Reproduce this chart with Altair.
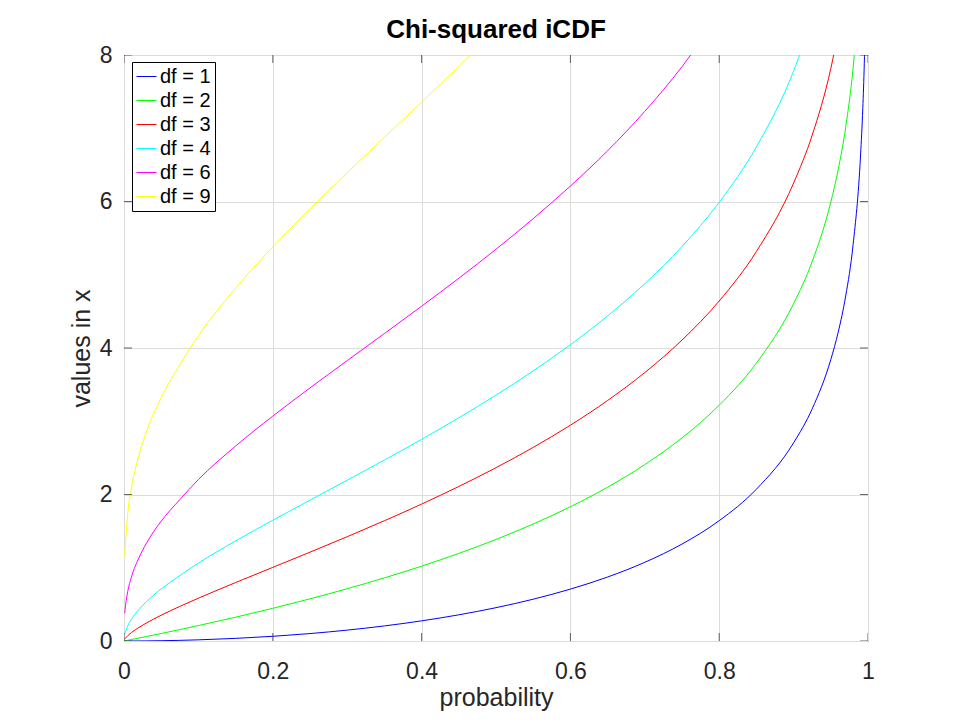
import altair as alt
import pandas as pd

# probability grid and chi-squared quantiles
p_df1 = [0.001, 0.005, 0.01, 0.02, 0.03, 0.05, 0.075, 0.1, 0.15, 0.2, 0.25, 0.3, 0.35,
         0.4, 0.45, 0.5, 0.55, 0.6, 0.65, 0.7, 0.75, 0.8, 0.85, 0.9, 0.925, 0.95,
         0.96, 0.97, 0.98, 0.99, 0.993, 0.995, 0.996]
x_df1 = [0.0000016, 0.000039, 0.000157, 0.000628, 0.00141, 0.00393, 0.00886, 0.0158,
         0.0358, 0.0642, 0.1015, 0.1485, 0.2059, 0.275, 0.3573, 0.4549, 0.5706, 0.7083,
         0.8735, 1.0742, 1.3233, 1.6424, 2.0722, 2.7055, 3.17, 3.8415, 4.2179, 4.7093,
         5.4119, 6.6349, 7.27, 7.8794, 8.284]

p_df2 = [0.001, 0.002, 0.003, 0.005, 0.01, 0.02, 0.03, 0.05, 0.075, 0.1, 0.15, 0.2, 0.25,
         0.3, 0.35, 0.4, 0.45, 0.5, 0.55, 0.6, 0.65, 0.7, 0.75, 0.8, 0.85, 0.9, 0.925,
         0.95, 0.96, 0.97, 0.98, 0.985]
x_df2 = [0.002, 0.004, 0.006, 0.01, 0.0201, 0.0404, 0.0609, 0.1026, 0.1559, 0.2107,
         0.325, 0.4463, 0.5754, 0.7133, 0.8616, 1.0217, 1.1957, 1.3863, 1.597, 1.8326,
         2.0996, 2.4079, 2.7726, 3.2189, 3.7942, 4.6052, 5.1805, 5.9915, 6.4378, 7.0131,
         7.824, 8.3994]

p_df3 = [0.001, 0.002, 0.003, 0.005, 0.01, 0.02, 0.03, 0.05, 0.075, 0.1, 0.15, 0.2, 0.25,
         0.3, 0.35, 0.4, 0.45, 0.5, 0.55, 0.6, 0.65, 0.7, 0.75, 0.8, 0.85, 0.9, 0.925,
         0.95, 0.96]
x_df3 = [0.0243, 0.0386, 0.0506, 0.0717, 0.1148, 0.1848, 0.2451, 0.3518, 0.472, 0.5844,
         0.7978, 1.0052, 1.2125, 1.4237, 1.6416, 1.8692, 2.1095, 2.366, 2.643, 2.9462,
         3.2831, 3.6649, 4.1083, 4.6416, 5.317, 6.2514, 6.905, 7.8147, 8.3112]

p_df4 = [0.001, 0.002, 0.003, 0.005, 0.01, 0.02, 0.03, 0.05, 0.075, 0.1, 0.15, 0.2, 0.25,
         0.3, 0.35, 0.4, 0.45, 0.5, 0.55, 0.6, 0.65, 0.7, 0.75, 0.8, 0.85, 0.9, 0.925]
x_df4 = [0.0908, 0.129, 0.158, 0.207, 0.2971, 0.4294, 0.5351, 0.7107, 0.894, 1.0636,
         1.3657, 1.6488, 1.9226, 2.1947, 2.4701, 2.7528, 3.0469, 3.3567, 3.6871, 4.0446,
         4.4377, 4.8784, 5.3853, 5.9886, 6.7449, 7.7794, 8.4963]

p_df6 = [0.001, 0.002, 0.003, 0.005, 0.01, 0.02, 0.03, 0.05, 0.075, 0.1, 0.15, 0.2, 0.25,
         0.3, 0.35, 0.4, 0.45, 0.5, 0.55, 0.6, 0.65, 0.7, 0.75, 0.8]
x_df6 = [0.3811, 0.485, 0.555, 0.6757, 0.8721, 1.1344, 1.3324, 1.6354, 1.93, 2.2041,
         2.6613, 3.0701, 3.4546, 3.8276, 4.1973, 4.5702, 4.9519, 5.3481, 5.7656, 6.2108,
         6.6918, 7.2311, 7.8408, 8.5581]

p_df9 = [0.001, 0.002, 0.003, 0.005, 0.01, 0.02, 0.03, 0.05, 0.075, 0.1, 0.15, 0.2, 0.25,
         0.3, 0.35, 0.4, 0.45, 0.5]
x_df9 = [1.1519, 1.35, 1.48, 1.7349, 2.0879, 2.5324, 2.8532, 3.3251, 3.77, 4.1682,
         4.8165, 5.3801, 5.8988, 6.3933, 6.8763, 7.357, 7.8434, 8.3428]

series = [
    ("df = 1", p_df1, x_df1),
    ("df = 2", p_df2, x_df2),
    ("df = 3", p_df3, x_df3),
    ("df = 4", p_df4, x_df4),
    ("df = 6", p_df6, x_df6),
    ("df = 9", p_df9, x_df9),
]
labels = [s[0] for s in series]
colors = ["#0000ff", "#00ff00", "#ff0000", "#00ffff", "#ff00ff", "#ffff00"]

x_ticks = [0, 0.2, 0.4, 0.6, 0.8, 1]
y_ticks = [0, 2, 4, 6, 8]
title_text = ["Chi-squared iCDF"]

rows = []
for name, ps, xs in series:
    for p, v in zip(ps, xs):
        rows.append({"df": name, "p": p, "x": v})
data = pd.DataFrame(rows)

FONT = "Liberation Sans"
W, H = 744, 586

x_scale = alt.Scale(domain=[0, 1], nice=False, zero=False, padding=0)
y_scale = alt.Scale(domain=[0, 8], nice=False, zero=False, padding=0)

lines = (
    alt.Chart(data)
    .mark_line(strokeWidth=1, clip=True, interpolate="monotone")
    .encode(
        x=alt.X(
            "p:Q",
            scale=x_scale,
            title="probability",
            axis=alt.Axis(values=x_ticks, format="~g", labelPadding=19,
                          titlePadding=2, labelFlush=False),
        ),
        y=alt.Y(
            "x:Q",
            scale=y_scale,
            title="values in x",
            axis=alt.Axis(values=y_ticks, format="d", labelPadding=12,
                          titlePadding=5, labelFlush=False),
        ),
        color=alt.Color(
            "df:N",
            scale=alt.Scale(domain=labels, range=colors),
            sort=labels,
            legend=alt.Legend(
                title=None,
                orient="none",
                legendX=8,
                legendY=7,
                symbolType="stroke",
                symbolSize=400,
                symbolStrokeWidth=1,
                labelFontSize=20,
                labelFont=FONT,
                labelColor="#000000",
                labelOffset=3,
                rowPadding=3,
                padding=4,
                fillColor="white",
                strokeColor="#000000",
            ),
        ),
        order=alt.Order("p:Q"),
    )
)

# inward tick marks on all four sides (half clipped away by the frame)
xt = pd.DataFrame({"t": x_ticks})
yt = pd.DataFrame({"t": y_ticks})
tick_style = dict(color="#262626", thickness=1, size=16, clip=True)
bottom = alt.Chart(xt).mark_tick(orient="vertical", **tick_style).encode(
    x=alt.X("t:Q", scale=x_scale), y=alt.Y(datum=0, scale=y_scale)
)
top = alt.Chart(xt).mark_tick(orient="vertical", **tick_style).encode(
    x=alt.X("t:Q", scale=x_scale), y=alt.Y(datum=8, scale=y_scale)
)
left = alt.Chart(yt).mark_tick(orient="horizontal", **tick_style).encode(
    y=alt.Y("t:Q", scale=y_scale), x=alt.X(datum=0, scale=x_scale)
)
right = alt.Chart(yt).mark_tick(orient="horizontal", **tick_style).encode(
    y=alt.Y("t:Q", scale=y_scale), x=alt.X(datum=1, scale=x_scale)
)

# title drawn as a text mark above the frame
title = alt.Chart(pd.DataFrame({"t": title_text})).mark_text(
    font=FONT, fontSize=26, fontWeight="bold", color="#000000",
    align="center", baseline="alphabetic",
).encode(text="t:N", x=alt.value(W / 2), y=alt.value(-17))

chart = (
    alt.layer(lines, bottom, top, left, right, title)
    .properties(
        width=W,
        height=H,
        autosize=alt.AutoSizeParams(type="none"),
        padding={"left": 116, "top": 47, "right": 84, "bottom": 71},
    )
    .configure_view(stroke="#262626", strokeWidth=1)
    .configure_axis(
        domain=False,
        ticks=False,
        tickSize=0,
        grid=True,
        gridColor="#dcdcdc",
        gridWidth=1,
        labelFont=FONT,
        labelFontSize=23,
        labelColor="#262626",
        titleFont=FONT,
        titleFontSize=25,
        titleFontWeight="normal",
        titleColor="#262626",
    )
)

chart.save("out.html", embed_options={"renderer": "svg", "actions": False})
